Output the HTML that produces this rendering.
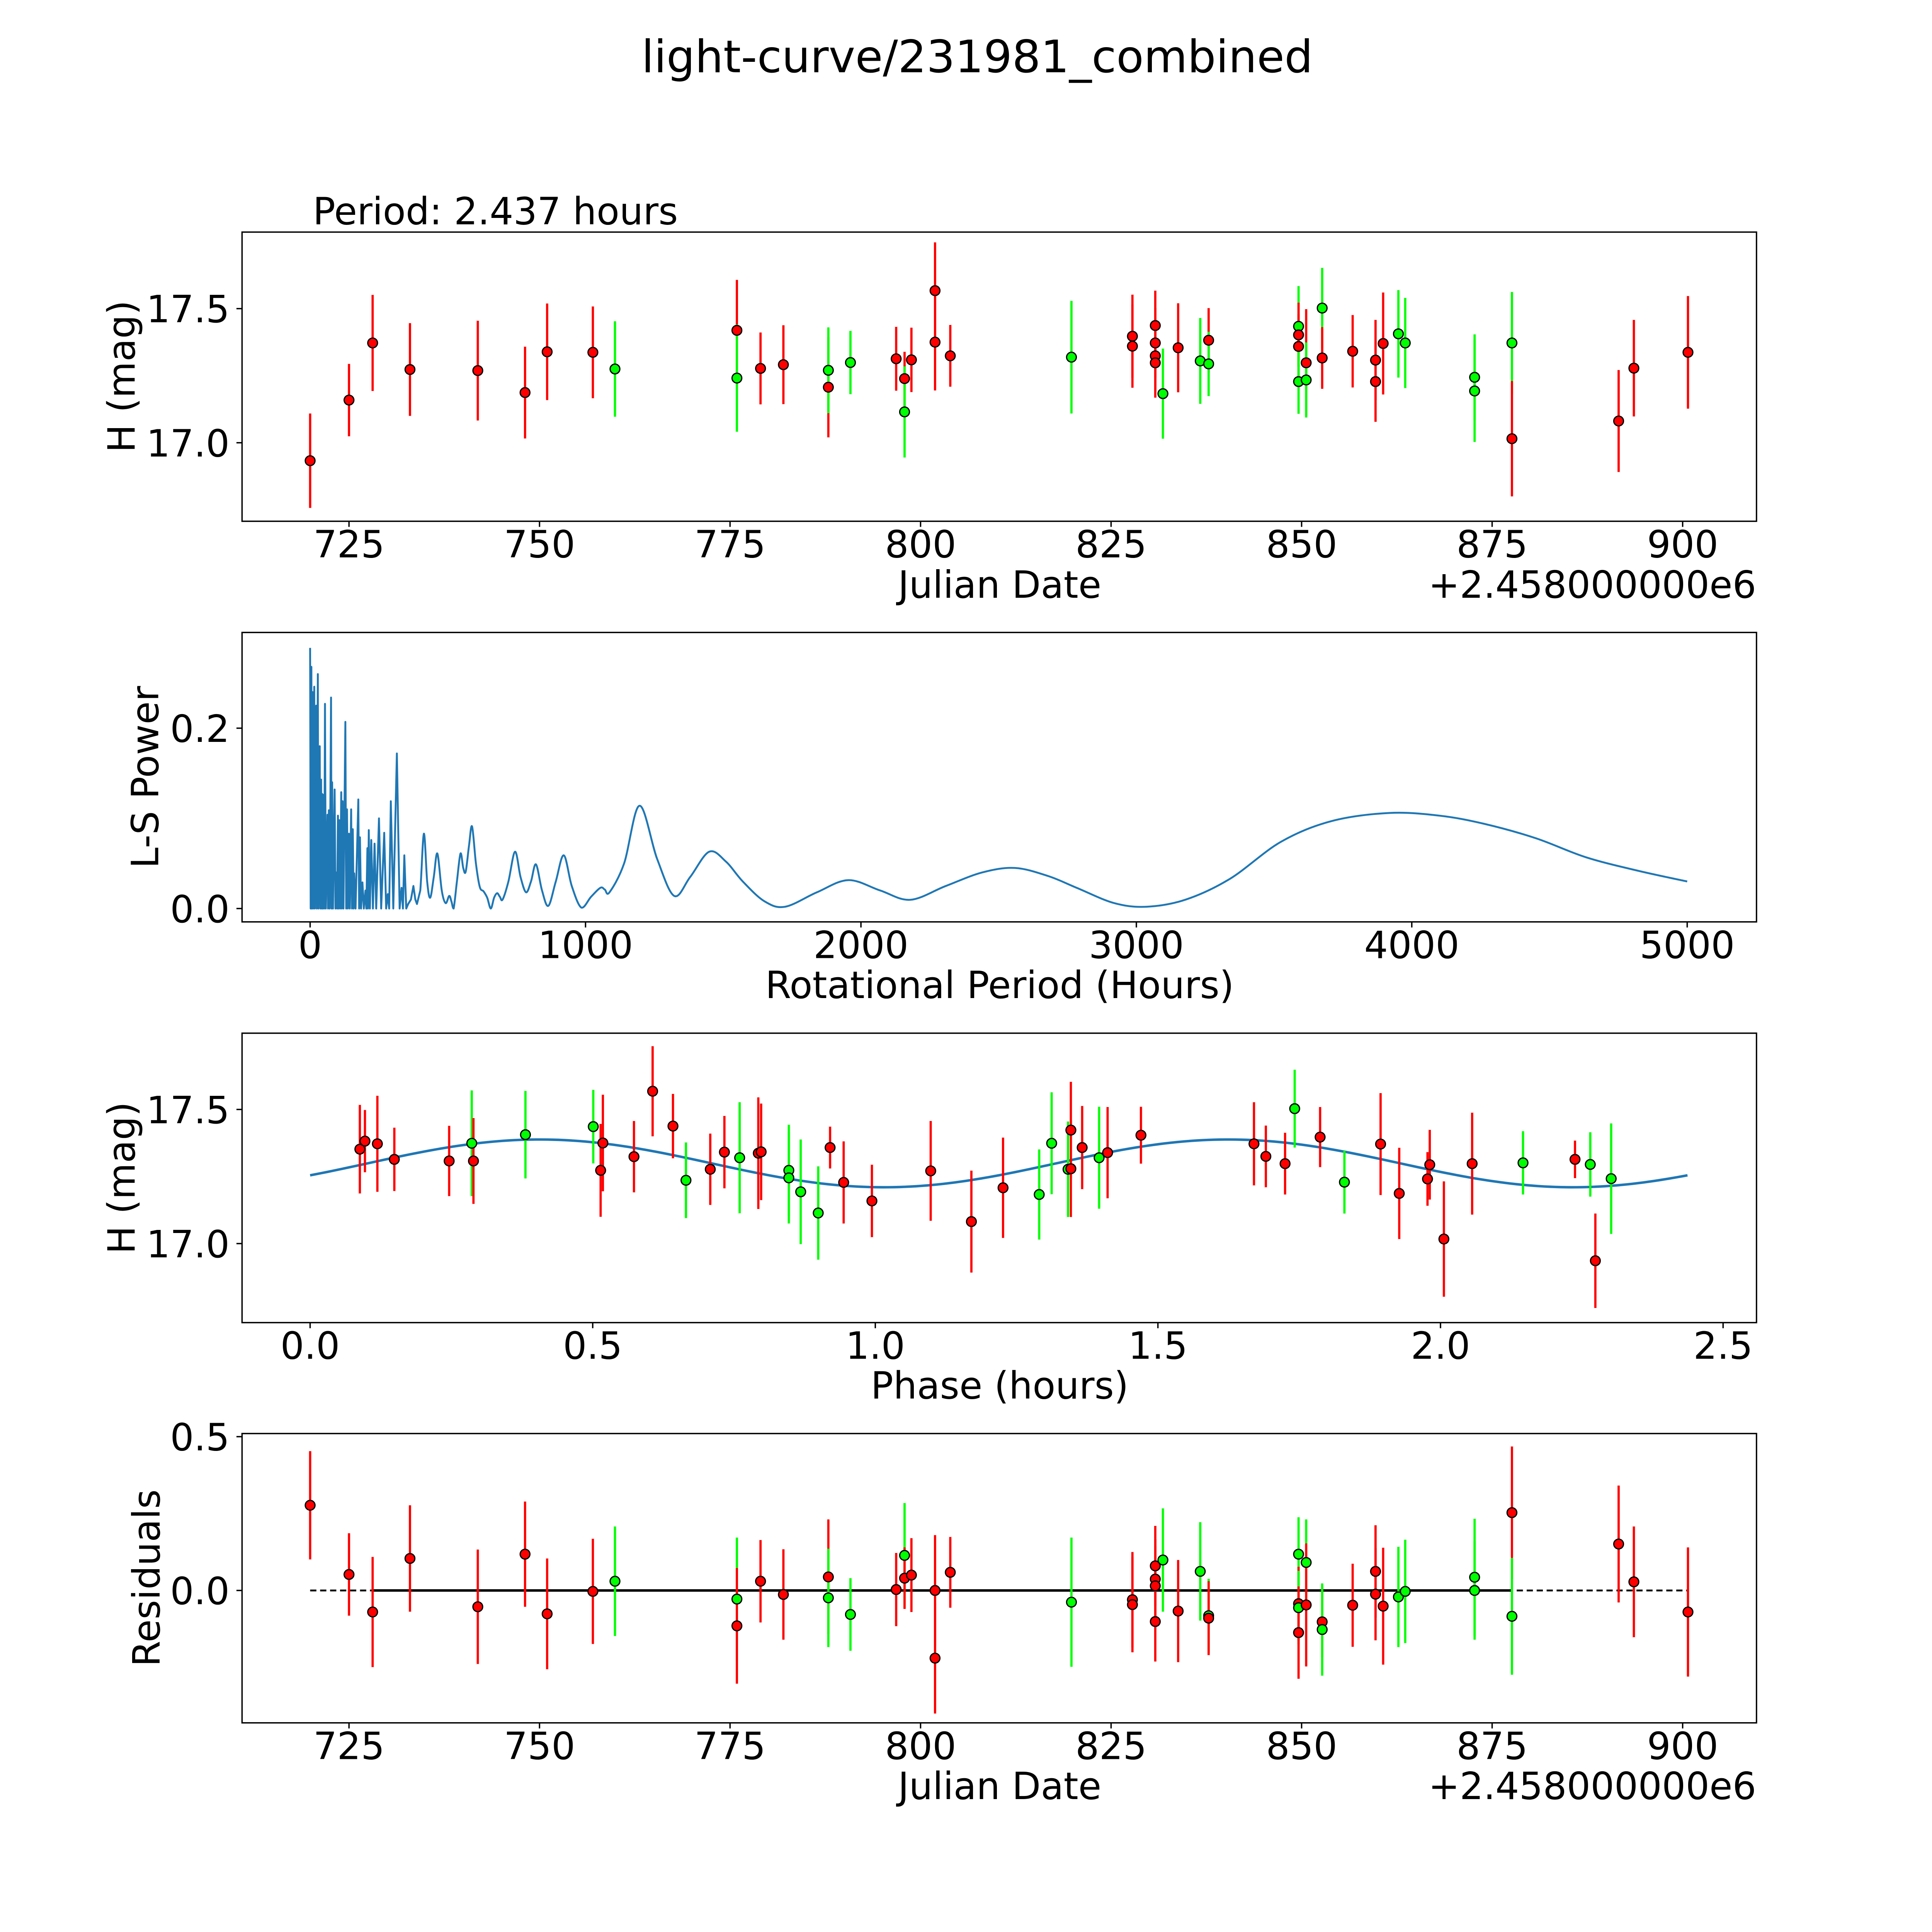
<!DOCTYPE html>
<html><head><meta charset="utf-8"><style>
html,body{margin:0;padding:0;background:#fff;overflow:hidden;}
svg{display:block;width:100vw;height:100vh;}
text{font-family:"DejaVu Sans","Liberation Sans",sans-serif;fill:#000;}
</style></head><body>
<svg id="fig" xmlns="http://www.w3.org/2000/svg" viewBox="0 0 1550 1550" preserveAspectRatio="none">
<rect x="0" y="0" width="1550" height="1550" fill="#fff"/>
<text x="784" y="58" font-size="36" text-anchor="middle">light-curve/231981_combined</text>
<text x="251" y="180" font-size="30">Period: 2.437 hours</text>
<text x="802" y="479.5" font-size="30" text-anchor="middle">Julian Date</text>
<text x="1409" y="479.5" font-size="30" text-anchor="end">+2.458000000e6</text>
<text transform="translate(108,302) rotate(-90)" font-size="30" text-anchor="middle">H (mag)</text>
<text x="802" y="800.8" font-size="30" text-anchor="middle">Rotational Period (Hours)</text>
<text transform="translate(127,623.5) rotate(-90)" font-size="30" text-anchor="middle">L-S Power</text>
<text x="802" y="1122.1" font-size="30" text-anchor="middle">Phase (hours)</text>
<text transform="translate(108,945) rotate(-90)" font-size="30" text-anchor="middle">H (mag)</text>
<text x="802" y="1443.4" font-size="30" text-anchor="middle">Julian Date</text>
<text x="1409" y="1443.4" font-size="30" text-anchor="end">+2.458000000e6</text>
<text transform="translate(128,1266) rotate(-90)" font-size="30" text-anchor="middle">Residuals</text>
</svg>
<script>
// ---------- data ----------
const lcDates=[719.9,725.0,728.1,733.0,741.9,748.1,751.0,757.0,759.9,775.9,775.9,779.0,782.0,787.9,787.9,790.8,796.8,797.9,797.9,798.8,801.9,801.9,803.9,819.8,827.8,827.8,830.8,830.8,830.8,830.8,831.8,833.8,836.7,837.8,837.8,849.6,849.6,849.6,849.6,850.6,850.6,852.7,852.7,856.7,859.7,859.7,860.7,862.7,863.6,872.7,872.7,877.6,877.6,891.6,893.6,900.7];
const lcMags=[16.933,17.159,17.372,17.273,17.269,17.187,17.339,17.337,17.275,17.419,17.241,17.277,17.291,17.207,17.270,17.299,17.313,17.239,17.115,17.309,17.567,17.375,17.324,17.319,17.397,17.360,17.437,17.372,17.324,17.298,17.183,17.354,17.305,17.382,17.294,17.434,17.402,17.359,17.228,17.298,17.234,17.502,17.316,17.341,17.308,17.228,17.370,17.406,17.372,17.244,17.193,17.372,17.015,17.081,17.278,17.337];
const lcErrs=[.176,.135,.179,.173,.186,.171,.180,.171,.178,.188,.20,.134,.147,.187,.16,.118,.119,.10,.17,.12,.18,.18,.115,.21,.155,.155,.13,.13,.13,.13,.168,.166,.16,.12,.12,.15,.12,.12,.12,.2,.14,.15,.115,.135,.15,.15,.19,.163,.168,.16,.19,.19,.215,.19,.18,.21];
const lcColors=['r','r','r','r','r','r','r','r','g','r','g','r','r','r','g','g','r','r','g','r','r','r','r','g','r','r','r','r','r','r','g','r','g','r','g','g','r','r','g','r','g','g','r','r','r','r','r','g','g','g','g','g','r','r','r','r'];

const periodHours=[
0,2,4.6,6,9,11,15,17,22,24,
28,30,35,37,40,42,44,46,49,51,
54,57,63,65,68,71,76,78,80,83,
89,92,96,98,101,103,106,109,113,115,
118,121,128,131,134,137,141,144,149,152,
155,158,160,165,175,178,181,185,190,195,
201,204,208,210,213,217,222,228,234,240,
250,258,269,276,282,287,293,302,315,325,
332,337,342,349,356,366,375,382,388,400,
413,425,436,449,462,478,492,505,513,521,
533,546,556,565,577,588,602,616,630,643,
656,668,679,689,699,720,744,764,784,802,
820,842,865,892,921,950,985,1020,1054,1070,
1087,1140,1196,1260,1322,1380,1449,1510,1571,1650,
1725,1840,1954,2070,2179,2308,2440,2559,2680,2787,
2920,3038,3180,3340,3525,3709,3919,4100,4262,4450,
4631,4820,5000];
const periodPower=[
.289,0,.268,0,.240,0,.246,0,.225,0,
.260,0,.180,0,.143,0,.127,0,.126,0,
.227,0,.104,0,.109,0,.234,0,.140,0,
.132,0,.040,0,.103,0,.098,0,.129,0,
.119,0,.207,0,.110,0,.083,0,.110,0,
.088,0,.039,0,.121,0,.079,0,.029,0,
.020,0,.067,0,.087,0,.076,0,.072,0,
.100,0,.084,0,.016,0,.119,0,.172,0,
.023,0,.059,0,.005,.010,.025,.010,.005,.020,
.083,.030,.012,.035,.061,.020,.006,.014,.008,0,
.030,.061,.045,.041,.070,.091,.050,.024,.019,.012,
0,.012,.017,.013,.010,.030,.063,.035,.018,.030,
.049,.020,.003,.030,.059,.025,.001,.013,.023,.021,
.018,.050,.114,.055,.014,.035,.063,.052,.030,.008,
.002,.018,.0315,.020,.0097,.025,.040,.045,.036,.0225,
.006,.002,.010,.033,.074,.097,.106,.103,.094,.078,
.057,.042,.030];

const phaseVals=[.088,.097,.119,.149,.246,.286,.289,.381,.501,.514,.518,.573,.606,.642,.665,.708,.733,.760,.793,.798,.847,.847,.868,.899,.920,.944,.994,1.098,1.170,1.226,1.290,1.312,1.341,1.346,1.346,1.366,1.396,1.411,1.470,1.670,1.691,1.725,1.742,1.787,1.830,1.894,1.927,1.977,1.981,2.006,2.056,2.146,2.238,2.265,2.274,2.302];
const phaseMags=[17.352,17.382,17.372,17.314,17.308,17.374,17.308,17.406,17.436,17.273,17.375,17.324,17.568,17.438,17.236,17.277,17.341,17.320,17.337,17.342,17.273,17.245,17.193,17.114,17.358,17.228,17.159,17.271,17.082,17.208,17.183,17.374,17.277,17.423,17.279,17.358,17.320,17.339,17.404,17.372,17.325,17.298,17.503,17.397,17.229,17.371,17.187,17.241,17.294,17.017,17.298,17.301,17.314,17.295,16.936,17.242];
const phaseErrs=[.165,.116,.179,.118,.131,.197,.16,.163,.137,.173,.18,.133,.168,.12,.141,.133,.135,.207,.208,.18,.17,.17,.195,.174,.078,.153,.135,.186,.19,.187,.168,.19,.178,.18,.18,.155,.19,.17,.106,.155,.115,.115,.145,.112,.117,.19,.17,.10,.13,.215,.19,.118,.07,.12,.176,.206];
const phaseColors=['r','r','r','r','r','g','r','g','g','r','r','r','r','r','g','r','r','g','r','r','g','g','g','g','r','r','r','r','r','r','g','g','g','r','r','r','g','r','r','r','r','r','g','r','g','r','r','r','r','r','r','g','r','g','r','g'];
const fitMean=[17.299];
const fitAmp=[0.089];
const fitPeakPhase=[0.406];
const fitPeriod=[2.437];

const resDates=[719.9,725.0,728.1,733.0,741.9,748.1,751.0,757.0,759.9,775.9,775.9,779.0,782.0,787.9,787.9,790.8,796.8,797.9,797.9,798.8,801.9,801.9,803.9,819.8,827.8,827.8,830.8,830.8,830.8,830.8,831.8,833.8,836.7,837.8,837.8,849.6,849.6,849.6,849.6,850.6,850.6,852.7,852.7,856.7,859.7,859.7,860.7,862.7,863.6,872.7,872.7,877.6,877.6,891.6,893.6,900.7];
const resVals=[.277,.052,-.070,.104,-.053,.118,-.076,-.003,.030,-.028,-.115,.030,-.013,.044,-.024,-.078,.003,.114,.040,.050,.0,-.220,.059,-.038,-.030,-.046,.080,.037,.015,-.101,.099,-.067,.062,-.082,-.090,.118,-.043,-.056,-.137,.091,-.047,-.102,-.127,-.048,.062,-.012,-.051,-.021,-.003,.043,.0,.253,-.084,.151,.028,-.070];
const resErrs=[.176,.134,.179,.173,.186,.171,.18,.171,.178,.2,.188,.134,.147,.187,.16,.118,.119,.17,.10,.12,.18,.18,.115,.21,.155,.155,.13,.13,.13,.13,.168,.166,.16,.12,.12,.12,.12,.12,.15,.14,.2,.115,.15,.135,.15,.15,.19,.163,.168,.19,.16,.215,.19,.19,.18,.21];
const resColors=['r','r','r','r','r','r','r','r','g','g','r','r','r','r','g','g','r','g','r','r','r','r','r','g','r','r','r','r','r','r','g','r','g','g','r','g','r','g','r','g','r','r','g','r','r','r','r','g','g','g','g','r','g','r','r','r'];
const refLineRange=[719.9,900.7];
const refSolidRange=[728.1,877.6];

const dateTicks=[725,750,775,800,825,850,875,900];
const magTicks=[17.0,17.5];
const magTickLabels=['17.0','17.5'];
const periodTicks=[0,1000,2000,3000,4000,5000];
const powerTicks=[0.0,0.2];
const powerTickLabels=['0.0','0.2'];
const phaseTicks=[0.0,0.5,1.0,1.5,2.0,2.5];
const phaseTickLabels=['0.0','0.5','1.0','1.5','2.0','2.5'];
const resTicks=[0.0,0.5];
const resTickLabels=['0.0','0.5'];

// ---------- scales ----------
const AX_L=194.2, AX_R=1409.2;
const P1={top:186.2,bot:418.2}, P2={top:507.4,bot:739.6}, P3={top:828.9,bot:1061.1}, P4={top:1150.1,bot:1382.2};
const xDate=d=>280+(d-725)*6.114;
const yMag1=m=>247.6+(17.5-m)*215.2;
const yMag3=m=>890.1+(17.5-m)*215.2;
const xPer=h=>248.8+h*0.22096;
const yPow=p=>728.9-p*723.5;
const xPh=p=>248.8+p*453.44;
const yRes=r=>1276.0-r*246.8;
const COL={r:'#ff0000',g:'#00ff00'};
const NS='http://www.w3.org/2000/svg';
const svg=document.getElementById('fig');
function mk(tag,attrs,parent){const e=document.createElementNS(NS,tag);for(const k in attrs)e.setAttribute(k,attrs[k]);(parent||svg).appendChild(e);return e;}

function frame(P,name){
  const r=mk('rect',{x:AX_L,y:P.top,width:AX_R-AX_L,height:P.bot-P.top,fill:'none',stroke:'#000','stroke-width':1.1});
  
  
}
function xTicks(P,vals,labels,sx,name){
  const g=mk('g',{});
  
  
  vals.forEach((v,i)=>{
    const x=sx(v);
    mk('line',{x1:x,x2:x,y1:P.bot,y2:P.bot+4.5,stroke:'#000','stroke-width':1.1},g);
    const t=mk('text',{x:x,y:P.bot+29,'font-size':30,'text-anchor':'middle'},g);
    t.textContent=labels[i];
    
    
  });
}
function yTicks(P,vals,labels,sy,name){
  const g=mk('g',{});
  
  
  vals.forEach((v,i)=>{
    const y=sy(v);
    mk('line',{x1:AX_L-4.5,x2:AX_L,y1:y,y2:y,stroke:'#000','stroke-width':1.1},g);
    const t=mk('text',{x:AX_L-10,y:y+11,'font-size':30,'text-anchor':'end'},g);
    t.textContent=labels[i];
    
    
  });
}
function points(xs,ys,es,cs,sx,sy,name){
  const g=mk('g',{});
  
  
  xs.forEach((xv,i)=>{
    const x=sx(xv);
    const l=mk('line',{x1:x,x2:x,y1:sy(ys[i]+es[i]),y2:sy(ys[i]-es[i]),stroke:COL[cs[i]],'stroke-width':1.8},g);
    
    
  });
  xs.forEach((xv,i)=>{
    const c=mk('circle',{cx:sx(xv),cy:sy(ys[i]),r:3.9,fill:COL[cs[i]],stroke:'#000','stroke-width':1},g);
    
    
  });
}

// Panel 1
frame(P1,'lightcurve-axes');
xTicks(P1,dateTicks,dateTicks.map(String),xDate,'lightcurve-x-ticks');
yTicks(P1,magTicks,magTickLabels,yMag1,'lightcurve-y-ticks');
points(lcDates,lcMags,lcErrs,lcColors,xDate,yMag1,'lightcurve-points');

// Panel 2
frame(P2,'periodogram-axes');
xTicks(P2,periodTicks,periodTicks.map(String),xPer,'periodogram-x-ticks');
yTicks(P2,powerTicks,powerTickLabels,yPow,'periodogram-y-ticks');
{
  const n=Math.min(periodHours.length,periodPower.length);
  const X=[],Y=[];
  for(let i=0;i<n;i++){X.push(xPer(periodHours[i]));Y.push(yPow(periodPower[i]));}
  let d='M'+X[0].toFixed(2)+','+Y[0].toFixed(2);
  for(let i=1;i<n;i++){
    if(periodHours[i-1]>=400){
      const i0=Math.max(0,i-2), i3=Math.min(n-1,i+1);
      const c1x=X[i-1]+(X[i]-X[i0])/6, c1y=Y[i-1]+(Y[i]-Y[i0])/6;
      const c2x=X[i]-(X[i3]-X[i-1])/6, c2y=Y[i]-(Y[i3]-Y[i-1])/6;
      d+='C'+c1x.toFixed(2)+','+Math.min(c1y,yPow(0)).toFixed(2)+' '+c2x.toFixed(2)+','+Math.min(c2y,yPow(0)).toFixed(2)+' '+X[i].toFixed(2)+','+Y[i].toFixed(2);
    } else {
      d+='L'+X[i].toFixed(2)+','+Y[i].toFixed(2);
    }
  }
  const p=mk('path',{d:d,fill:'none',stroke:'#1f77b4','stroke-width':1.5,'stroke-linejoin':'round'});
  
  
}

// Panel 3
frame(P3,'phase-axes');
xTicks(P3,phaseTicks,phaseTickLabels,xPh,'phase-x-ticks');
yTicks(P3,magTicks,magTickLabels,yMag3,'phase-y-ticks');
{
  let d='';
  const N=250;
  for(let i=0;i<=N;i++){
    const ph=fitPeriod[0]*i/N;
    const m=fitMean[0]+fitAmp[0]*Math.cos(2*Math.PI*(ph-fitPeakPhase[0])/(fitPeriod[0]/2));
    d+=(i?'L':'M')+xPh(ph).toFixed(2)+','+yMag3(m).toFixed(2);
  }
  const p=mk('path',{d:d,fill:'none',stroke:'#1f77b4','stroke-width':2});
  
  
}
points(phaseVals,phaseMags,phaseErrs,phaseColors,xPh,yMag3,'phase-points');

// Panel 4
frame(P4,'residuals-axes');
xTicks(P4,dateTicks,dateTicks.map(String),xDate,'residuals-x-ticks');
yTicks(P4,resTicks,resTickLabels,yRes,'residuals-y-ticks');
{
  const l1=mk('line',{x1:xDate(refLineRange[0]),x2:xDate(refLineRange[1]),y1:yRes(0),y2:yRes(0),stroke:'#000','stroke-width':1.5,'stroke-dasharray':'5,3'});
  
  
  const l2=mk('line',{x1:xDate(refSolidRange[0]),x2:xDate(refSolidRange[1]),y1:yRes(0),y2:yRes(0),stroke:'#000','stroke-width':2});
  
  
}
points(resDates,resVals,resErrs,resColors,xDate,yRes,'residual-points');
</script>
</body></html>
